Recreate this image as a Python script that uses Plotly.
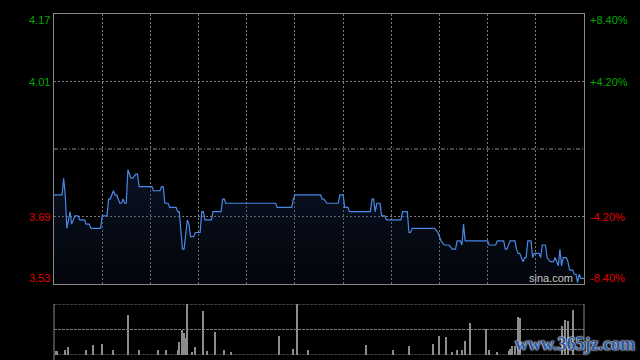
import plotly.graph_objects as go

# ---- data ----
prev_close = 3.85
pct_ticks = [-8.4, -4.2, 0.0, 4.2, 8.4]          # percent levels of the price axis
session_minutes = 330                           # HK session 09:30-12:00, 13:00-16:00
grid_step = 30

price_minute = [0, 5, 6, 7, 8, 10, 11, 13, 15, 16, 19, 20, 22, 23, 29, 30, 33, 34, 35, 37,
                38, 39, 41, 42, 43, 44, 45, 46, 47, 48, 49, 51, 52, 53, 61, 62, 66, 67, 68, 69,
                71, 72, 76, 77, 78, 80, 81, 83, 84, 85, 87, 88, 91, 92, 93, 94, 98, 99, 104, 105,
                106, 107, 138, 139, 148, 149, 150, 166, 167, 168, 170, 177, 178, 180, 181, 183, 184, 197, 198, 199,
                200, 201, 203, 204, 206, 207, 216, 217, 220, 221, 222, 223, 237, 239, 241, 243, 246, 248, 250, 251,
                253, 254, 255, 256, 270, 271, 275, 276, 280, 281, 282, 284, 287, 288, 289, 290, 292, 293, 294, 295,
                297, 298, 299, 301, 302, 303, 304, 306, 307, 309, 311, 312, 314, 315, 316, 317, 319, 320, 321, 323,
                324, 325, 326, 327, 328, 330]
price = [3.74, 3.74, 3.78, 3.74, 3.66, 3.70, 3.67, 3.69, 3.69, 3.68, 3.68, 3.67, 3.67, 3.66, 3.66, 3.69, 3.69, 3.73, 3.73, 3.75,
         3.74, 3.74, 3.72, 3.72, 3.73, 3.72, 3.72, 3.80, 3.79, 3.78, 3.78, 3.79, 3.79, 3.76, 3.76, 3.75, 3.75, 3.76, 3.76, 3.72,
         3.72, 3.71, 3.71, 3.70, 3.70, 3.61, 3.61, 3.68, 3.67, 3.64, 3.64, 3.65, 3.65, 3.70, 3.70, 3.68, 3.68, 3.70, 3.70, 3.73,
         3.73, 3.72, 3.72, 3.71, 3.71, 3.73, 3.74, 3.74, 3.73, 3.73, 3.72, 3.72, 3.74, 3.74, 3.71, 3.71, 3.70, 3.70, 3.73, 3.73,
         3.70, 3.72, 3.72, 3.69, 3.69, 3.68, 3.68, 3.70, 3.70, 3.65, 3.65, 3.66, 3.66, 3.65, 3.63, 3.62, 3.62, 3.61, 3.61, 3.63,
         3.63, 3.62, 3.67, 3.63, 3.63, 3.62, 3.62, 3.63, 3.63, 3.61, 3.61, 3.63, 3.63, 3.61, 3.60, 3.60, 3.58, 3.59, 3.59, 3.63,
         3.63, 3.59, 3.60, 3.60, 3.60, 3.59, 3.62, 3.62, 3.59, 3.58, 3.58, 3.59, 3.57, 3.61, 3.57, 3.59, 3.59, 3.58, 3.56, 3.56,
         3.55, 3.55, 3.53, 3.55, 3.54, 3.54]

vol_minute = [1, 2, 7, 9, 20, 24, 30, 37, 46, 53, 65, 70, 77, 78, 80, 81, 82, 83, 86, 88,
              93, 95, 100, 106, 110, 140, 149, 151, 158, 194, 211, 221, 236, 240, 244, 248, 251, 254, 256, 259,
              269, 271, 276, 283, 284, 285, 287, 289, 290, 316, 318, 320, 323]
volume_k = [40, 40, 50, 80, 50, 100, 110, 50, 400, 50, 50, 50, 50, 130, 250, 220, 170, 510, 30, 80,
            440, 40, 230, 50, 30, 190, 60, 510, 50, 100, 50, 90, 110, 190, 180, 30, 50, 50, 140, 320,
            260, 50, 30, 40, 60, 90, 90, 380, 370, 290, 350, 340, 450]

# ---- derived axis levels ----
level_price = [prev_close * (1 + p / 100) for p in pct_ticks]
y_low, y_high = level_price[0], level_price[-1]
vmax = max(volume_k)

GREEN = "#00a800"
RED = "#e00000"
GRID = "#7c7c7c"
FONT = "Liberation Sans, Arial, sans-serif"

fig = go.Figure()

fig.add_trace(go.Scatter(
    x=price_minute, y=price, mode="lines",
    line=dict(color="#4a88e6", width=1.2),
    fill="tozeroy",
    fillgradient=dict(type="vertical", start=y_low, stop=max(price),
                      colorscale=[[0, "rgba(20,40,80,0.12)"], [1, "rgba(25,45,90,0.40)"]]),
    hoverinfo="skip", xaxis="x", yaxis="y",
))

fig.add_trace(go.Bar(
    x=vol_minute, y=volume_k, width=0.62,
    marker=dict(color="#8c8c8c", line=dict(width=0)),
    hoverinfo="skip", xaxis="x2", yaxis="y2",
))

h_plot = 360 - 14
price_bottom = (360 - 284) / h_plot
vol_top = (360 - 304) / h_plot
vol_bottom = (360 - 355) / h_plot

fig.update_layout(
    width=640, height=360,
    margin=dict(l=54, r=56, t=14, b=0),
    paper_bgcolor="black", plot_bgcolor="black",
    showlegend=False, bargap=0,
    xaxis=dict(range=[0, session_minutes], domain=[0, 1], anchor="y",
               tick0=0, dtick=grid_step, showgrid=True, gridcolor=GRID, griddash="2px,2px", gridwidth=1,
               showticklabels=False, ticks="", zeroline=False,
               showline=True, mirror=True, linecolor="#888888", linewidth=1),
    yaxis=dict(range=[y_low, y_high], domain=[price_bottom, 1], anchor="x",
               tickvals=[level_price[1], level_price[3]], showgrid=True, gridcolor=GRID,
               griddash="2px,2px", gridwidth=1, showticklabels=False, ticks="", zeroline=False,
               showline=True, mirror=True, linecolor="#888888", linewidth=1),
    xaxis2=dict(range=[0, session_minutes], domain=[0, 1], anchor="y2",
                showgrid=False, showticklabels=False, ticks="", zeroline=False, showline=False),
    yaxis2=dict(range=[0, vmax], domain=[vol_bottom, vol_top], anchor="x2",
                tickvals=[vmax / 2], showgrid=True, gridcolor=GRID, griddash="3px,1px",
                gridwidth=1, showticklabels=False, ticks="", zeroline=False,
                showline=False),
)

# previous close reference line
fig.add_shape(type="line", xref="paper", yref="y", x0=0, x1=1, y0=prev_close, y1=prev_close,
              line=dict(color="#8a8a8a", width=1, dash="4px,2px,1px,2px"))

# volume panel frame: dotted top and base, solid sides
for lv in (0, vmax):
    fig.add_shape(type="line", xref="paper", yref="y2", x0=0, x1=1, y0=lv, y1=lv,
                  line=dict(color=GRID, width=1, dash="3px,1px"), layer="below")
fig.add_shape(type="line", xref="paper", yref="paper", x0=0, x1=0, y0=0, y1=vol_top,
              line=dict(color="#888888", width=1))
fig.add_shape(type="line", xref="paper", yref="paper", x0=1, x1=1, y0=vol_bottom, y1=vol_top,
              line=dict(color="#888888", width=1))

# axis labels
shifts = [6, 0, 0, 0, -6]
for i, (lv, pc) in enumerate(zip(level_price, pct_ticks)):
    if pc == 0:
        continue
    col = GREEN if pc > 0 else RED
    fig.add_annotation(x=0, xref="paper", y=lv, yref="y", text=f"{lv:.2f}",
                       xanchor="right", yanchor="middle", xshift=-2, yshift=shifts[i],
                       showarrow=False, font=dict(family=FONT, size=11, color=col))
    fig.add_annotation(x=1, xref="paper", y=lv, yref="y", text=f"{pc:+.2f}%",
                       xanchor="left", yanchor="middle", xshift=4, yshift=shifts[i],
                       showarrow=False, font=dict(family=FONT, size=11, color=col))

fig.add_annotation(x=1, xref="paper", y=y_low, yref="y", text="sina.com",
                   xanchor="right", yanchor="middle", xshift=-9, yshift=6,
                   showarrow=False, font=dict(family=FONT, size=11, color="#c8c8c8"))

fig.add_annotation(x=(575 - 54) / 530, xref="paper", y=0.045, yref="paper", text="<b>www.365jz.com</b>",
                   xanchor="center", yanchor="middle", showarrow=False,
                   font=dict(family="Liberation Serif, serif", size=18, color="#2458a6",
                             shadow="0 0 2px #d8d8d8, 0 0 2px #d8d8d8, 0 0 1px #ffffff"))

fig.write_html("out.html")
